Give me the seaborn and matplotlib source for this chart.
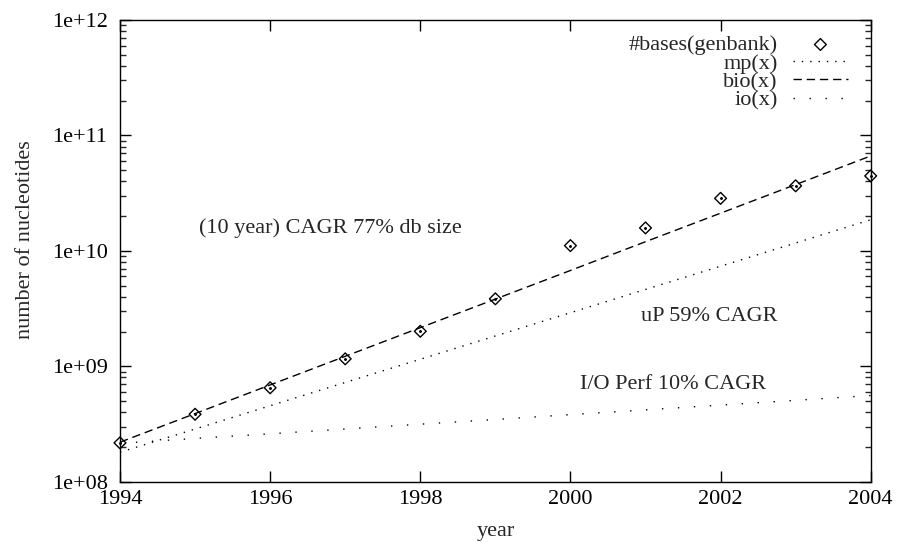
import matplotlib
matplotlib.use("Agg")
import matplotlib.pyplot as plt
import seaborn as sns
import pandas as pd
from matplotlib.ticker import LogLocator, NullFormatter

# ---- data ----
years = [1994, 1995, 1996, 1997, 1998, 1999, 2000, 2001, 2002, 2003, 2004]
genbank = [2.17e8, 3.84e8, 6.51e8, 1.16e9, 2.01e9, 3.84e9, 1.11e10, 1.58e10, 2.85e10, 3.66e10, 4.46e10]
mp_vals = [1.80e8, 2.86e8, 4.55e8, 7.24e8, 1.15e9, 1.83e9, 2.91e9, 4.63e9, 7.36e9, 1.17e10, 1.86e10]
bio_vals = [2.20e8, 3.89e8, 6.89e8, 1.22e9, 2.16e9, 3.82e9, 6.76e9, 1.20e10, 2.12e10, 3.75e10, 6.64e10]
io_vals = [2.15e8, 2.37e8, 2.60e8, 2.86e8, 3.15e8, 3.46e8, 3.81e8, 4.19e8, 4.61e8, 5.07e8, 5.58e8]
xticks = [1994, 1996, 1998, 2000, 2002, 2004]
yticks = [1e8, 1e9, 1e10, 1e11, 1e12]
ytick_labels = ["1e+08", "1e+09", "1e+10", "1e+11", "1e+12"]
annotations = [
    ("(10 year) CAGR 77% db size", 1996.8, 1.58e10),
    ("uP 59% CAGR", 2001.85, 2.69e9),
    ("I/O Perf 10% CAGR", 2001.37, 6.9e8),
]

df = pd.DataFrame({"year": years, "genbank": genbank, "mp": mp_vals,
                   "bio": bio_vals, "io": io_vals})

sns.set_style("ticks")
plt.rcParams["font.family"] = ["Liberation Serif", "DejaVu Serif"]
plt.rcParams["font.size"] = 16

fig = plt.figure(figsize=(8.98, 5.42), dpi=100)
ax = fig.add_axes([120 / 898, 1 - 481.7 / 542, (870.7 - 120) / 898, (481.7 - 20) / 542])

sns.scatterplot(data=df, x="year", y="genbank", ax=ax, marker="D", s=36,
                facecolor="none", edgecolor="black", linewidth=1.0,
                label="#bases(genbank)", zorder=5, clip_on=False)
ax.scatter(df["year"], df["genbank"], s=1.2, color="black", zorder=6, clip_on=False)
sns.lineplot(data=df, x="year", y="mp", ax=ax, color="black", lw=1.0,
             linestyle=(0, (1, 5)), label="mp(x)")
sns.lineplot(data=df, x="year", y="bio", ax=ax, color="black", lw=1.0,
             linestyle=(0, (6, 3.5)), label="bio(x)")
sns.lineplot(data=df, x="year", y="io", ax=ax, color="black", lw=1.0,
             linestyle=(0, (1, 10.5)), label="io(x)")

ax.set_yscale("log")
ax.set_xlim(1994, 2004)
ax.set_ylim(1e8, 1e12)
ax.set_xticks(xticks)
ax.set_xticklabels([str(y) for y in xticks])
ax.set_yticks(yticks)
ax.set_yticklabels(ytick_labels)
ax.yaxis.set_minor_locator(LogLocator(base=10, subs=range(2, 10)))
ax.yaxis.set_minor_formatter(NullFormatter())

for s in ax.spines.values():
    s.set_linewidth(1.0)
    s.set_color("black")
    s.set_visible(True)
ax.tick_params(which="major", direction="in", length=8, width=1.0,
               top=True, right=True, labelsize=16, colors="black")
ax.tick_params(which="minor", direction="in", length=4, width=1.0,
               top=False, right=True, left=True)
ax.tick_params(axis="y", which="major", pad=9)
ax.tick_params(axis="x", which="major", pad=6)
ax.grid(False)

ax.set_xlabel("year", fontsize=16)
ax.set_ylabel("number of nucleotides", fontsize=16)
ax.xaxis.set_label_coords(0.5, -0.088)
ax.yaxis.set_label_coords(-0.113, 0.524)

for txt, x, y in annotations:
    ax.text(x, y, txt, ha="center", va="center", fontsize=16)

leg = ax.legend(loc="upper right", bbox_to_anchor=(0.970, 0.968), frameon=False,
                markerfirst=False, handlelength=2.5, handletextpad=0.68,
                labelspacing=-0.1, fontsize=16, borderaxespad=0, borderpad=0)

fig.savefig("out.png", dpi=100)
